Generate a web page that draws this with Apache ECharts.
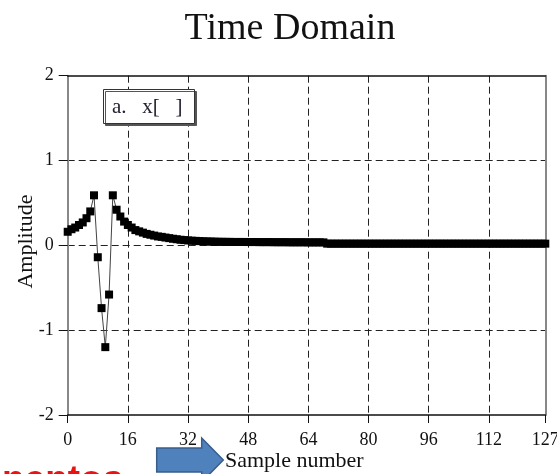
<!DOCTYPE html>
<html>
<head>
    <meta charset="UTF-8">
    <title>Time Domain</title>
    <script src="https://cdn.jsdelivr.net/npm/echarts@6/dist/echarts.min.js"></script>
    <style>
        html, body { margin: 0; padding: 0; background: #fff; }
        #chart { width: 557px; height: 474px; }
    </style>
</head>
<body>
<div id="chart"></div>
<script>
    // x[n], n = 0..127
    const samples = [
        0.16, 0.19, 0.21, 0.24, 0.27, 0.32, 0.40, 0.59,
        -0.14, -0.74, -1.20, -0.58,
        0.59, 0.42, 0.34, 0.28, 0.24, 0.21, 0.18, 0.165,
        0.15, 0.135, 0.125, 0.115, 0.105, 0.10, 0.092, 0.085, 0.078, 0.072, 0.066, 0.062,
        0.058, 0.055, 0.053, 0.05, 0.048, 0.046, 0.045, 0.044,
        0.042, 0.042, 0.041, 0.041, 0.04, 0.04, 0.04, 0.04, 0.039, 0.039,
        0.039, 0.038, 0.038, 0.038, 0.038, 0.037, 0.037, 0.037, 0.037, 0.036,
        0.036, 0.036, 0.036, 0.036, 0.035, 0.035, 0.035, 0.035, 0.035,
        0.02, 0.02, 0.02, 0.02, 0.02, 0.02, 0.02, 0.02, 0.02, 0.02,
        0.02, 0.02, 0.02, 0.02, 0.02, 0.02, 0.02, 0.02, 0.02, 0.02,
        0.02, 0.02, 0.02, 0.02, 0.02, 0.02, 0.02, 0.02, 0.02, 0.02,
        0.02, 0.02, 0.02, 0.02, 0.02, 0.02, 0.02, 0.02, 0.02, 0.02,
        0.02, 0.02, 0.02, 0.02, 0.02, 0.02, 0.02, 0.02, 0.02, 0.02,
        0.02, 0.02, 0.02, 0.02, 0.02, 0.02, 0.02, 0.02, 0.02
    ]
    const xRange = [0, 127]
    const xStep = 16
    const yRange = [-2, 2]
    const yStep = 1
    const titleText = 'Time Domain'
    const legendText = 'a.   x[   ]'
    const xName = 'Sample number'
    const yName = 'Amplitude'
    const footText = 'nentos'

    const serif = 'Liberation Serif, Times New Roman, serif'
    const dashed = {show: true, showMinLine: false, showMaxLine: false,
        lineStyle: {color: '#222', width: 1, type: [7, 4]}}

    let chart = echarts.init(document.getElementById('chart'), null, {renderer: 'canvas'})
    chart.setOption({
        animation: false,
        backgroundColor: '#fff',
        grid: {left: 67.7, right: 11.7, top: 75.7, bottom: 59, containLabel: false, outerBoundsMode: 'none'},
        xAxis: [{
            type: 'value', min: xRange[0], max: xRange[1], interval: xStep,
            axisLine: {show: true, onZero: false, lineStyle: {color: '#111', width: 1.5}},
            axisTick: {show: true, inside: false, length: 8, lineStyle: {color: '#111'}},
            axisLabel: {color: '#111', fontFamily: serif, fontSize: 18, margin: 16,
                showMinLabel: true, showMaxLabel: true},
            splitLine: dashed
        }, {
            type: 'value', position: 'top', min: xRange[0], max: xRange[1],
            axisLine: {show: true, onZero: false, lineStyle: {color: '#111', width: 1.5}},
            axisTick: {show: false}, axisLabel: {show: false}, splitLine: {show: false}
        }],
        yAxis: [{
            type: 'value', min: yRange[0], max: yRange[1], interval: yStep,
            axisLine: {show: true, onZero: false, lineStyle: {color: '#888', width: 2}},
            axisTick: {show: true, inside: false, length: 9, lineStyle: {color: '#111'}},
            axisLabel: {color: '#111', fontFamily: serif, fontSize: 18, margin: 14},
            splitLine: dashed
        }, {
            type: 'value', position: 'right', min: yRange[0], max: yRange[1],
            axisLine: {show: true, onZero: false, lineStyle: {color: '#888', width: 2}},
            axisTick: {show: false}, axisLabel: {show: false}, splitLine: {show: false}
        }],
        series: [{
            type: 'line',
            data: samples.map((v, i) => [i, v]),
            symbol: 'rect',
            symbolSize: 8,
            showAllSymbol: true,
            itemStyle: {color: '#000'},
            lineStyle: {color: '#444', width: 1},
            emphasis: {disabled: true},
            z: 3
        }],
        graphic: [
            {type: 'text', x: 290, y: 29, style: {text: titleText, font: '38px ' + serif,
                fill: '#111', align: 'center', verticalAlign: 'middle'}},
            {type: 'text', x: 26, y: 241.5, rotation: Math.PI / 2, style: {text: yName,
                font: '22px ' + serif, fill: '#111', align: 'center', verticalAlign: 'middle'}},
            {type: 'rect', shape: {x: 103.5, y: 89.5, width: 91, height: 34}, z: 10,
                style: {fill: '#fff', stroke: '#333', lineWidth: 1,
                    shadowColor: '#555', shadowOffsetX: 2, shadowOffsetY: 2, shadowBlur: 0}},
            {type: 'text', x: 112, y: 107, z: 11, style: {text: legendText, font: '21px ' + serif,
                fill: '#223', align: 'left', verticalAlign: 'middle'}},
            {type: 'text', x: 225, y: 461, style: {text: xName, font: '22px ' + serif,
                fill: '#111', align: 'left', verticalAlign: 'middle'}},
            {type: 'polygon', shape: {points: [[156.7, 448], [201.7, 448], [201.7, 438], [223.3, 460],
                [201.7, 482], [201.7, 472], [156.7, 472]]},
                style: {fill: '#4f81bd', stroke: '#385d8a', lineWidth: 1.5}},
            {type: 'text', x: 2, y: 481, style: {text: footText,
                font: 'bold 37px Liberation Sans, Arial, sans-serif', fill: '#ee1111',
                align: 'left', verticalAlign: 'middle'}}
        ]
    })
</script>
</body>
</html>
